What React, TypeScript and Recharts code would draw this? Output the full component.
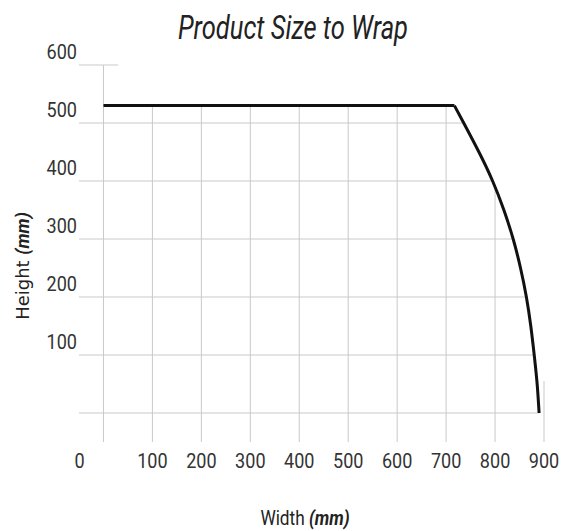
import { LineChart, Line, XAxis, YAxis, ReferenceLine } from 'recharts';

// axis ticks (mm)
const widthTicks = [0, 100, 200, 300, 400, 500, 600, 700, 800, 900];
const heightTicks = [0, 100, 200, 300, 400, 500, 600];

// wrapping envelope: flat top, then curved side (listed bottom -> top)
const flatWidth = [0, 717];
const flatHeight = [530, 530];
const curveWidth = [890, 886, 880, 873, 864, 852, 837, 818, 795, 767, 736, 717];
const curveHeight = [0, 50, 100, 150, 200, 250, 300, 350, 400, 450, 500, 530];

const flatData = flatWidth.map((w, i) => ({ w, h: flatHeight[i] }));
const curveData = curveWidth.map((w, i) => ({ w, h: curveHeight[i] }));

const GRID = '#c9c9c9';
const FONT = 'Roboto, sans-serif';
const X_MIN = -50;
const Y_MIN = -50;
const TOP_STUB = 30; // width where the 600 line stops
const RIGHT_STUB = 55; // height where the 900 line stops

// width of the envelope at a given height
function widthAt(h: number) {
  for (let i = 0; i < curveHeight.length - 1; i++) {
    const h0 = curveHeight[i];
    const h1 = curveHeight[i + 1];
    if (h >= h0 && h <= h1) {
      const t = (h - h0) / (h1 - h0);
      return curveWidth[i] + t * (curveWidth[i + 1] - curveWidth[i]);
    }
  }
  return TOP_STUB;
}

// height of the envelope at a given width
function heightAt(w: number) {
  if (w === 0) return 600;
  if (w <= flatWidth[1]) return flatHeight[1];
  for (let i = 0; i < curveWidth.length - 1; i++) {
    const w0 = curveWidth[i];
    const w1 = curveWidth[i + 1];
    if (w <= w0 && w >= w1) {
      const t = (w0 - w) / (w0 - w1);
      return curveHeight[i] + t * (curveHeight[i + 1] - curveHeight[i]);
    }
  }
  return RIGHT_STUB;
}

const XTick = (props: any) => {
  const { x, y, payload } = props;
  const shift = payload.value === 0 ? -24 : 0;
  return (
    <text
      transform={`translate(${x + shift},${y + 19.5}) scale(0.86,1)`}
      textAnchor="middle"
      dominantBaseline="central"
      fontFamily={FONT}
      fontSize={21}
      fill="#333"
    >
      {payload.value}
    </text>
  );
};

const YTick = (props: any) => {
  const { x, y, payload } = props;
  if (payload.value === 0) return null;
  return (
    <text
      transform={`translate(${x - 2},${y - 13}) scale(0.86,1)`}
      textAnchor="end"
      dominantBaseline="central"
      fontFamily={FONT}
      fontSize={21}
      fill="#333"
    >
      {payload.value}
    </text>
  );
};

export default function App() {
  return (
    <div style={{ position: 'absolute', left: 0, top: 0, width: 569, height: 531, background: '#fff' }}>
      <div
        style={{
          position: 'absolute',
          left: 293,
          top: 27,
          transform: 'translate(-50%, -50%) scale(0.75, 1)',
          whiteSpace: 'nowrap',
          fontFamily: FONT,
          fontStyle: 'italic',
          fontSize: 34,
          color: '#222',
          lineHeight: '40px',
        }}
      >
        Product Size to Wrap
      </div>
      <LineChart width={569} height={531} margin={{ top: 65, right: 25, bottom: 0, left: 0 }}>
        <XAxis
          type="number"
          dataKey="w"
          domain={[X_MIN, 900]}
          ticks={widthTicks}
          allowDataOverflow
          axisLine={false}
          tickLine={false}
          tickSize={0}
          tickMargin={0}
          height={89}
          tick={<XTick />}
          interval={0}
        />
        <YAxis
          type="number"
          domain={[Y_MIN, 600]}
          ticks={heightTicks}
          allowDataOverflow
          axisLine={false}
          tickLine={false}
          tickSize={0}
          tickMargin={0}
          width={79}
          tick={<YTick />}
          interval={0}
        />
        {heightTicks.map((h) => (
          <ReferenceLine
            key={`h-${h}`}
            segment={[
              { x: X_MIN, y: h },
              { x: widthAt(h), y: h },
            ]}
            stroke={GRID}
            strokeWidth={1}
          />
        ))}
        {widthTicks.map((w) => (
          <ReferenceLine
            key={`v-${w}`}
            segment={[
              { x: w, y: Y_MIN },
              { x: w, y: heightAt(w) },
            ]}
            stroke={GRID}
            strokeWidth={1}
          />
        ))}
        <Line
          data={flatData}
          dataKey="h"
          type="linear"
          stroke="#111"
          strokeWidth={3}
          dot={false}
          isAnimationActive={false}
        />
        <Line
          data={curveData}
          dataKey="h"
          type="natural"
          stroke="#111"
          strokeWidth={3}
          dot={false}
          isAnimationActive={false}
        />
      </LineChart>
      <div
        style={{
          position: 'absolute',
          left: 22,
          top: 266,
          transform: 'translate(-50%, -50%) rotate(-90deg)',
          whiteSpace: 'nowrap',
          fontFamily: '"DejaVu Sans", sans-serif',
          fontSize: 18,
          color: '#222',
        }}
      >
        Height <span style={{ fontFamily: FONT, fontWeight: 'bold', fontStyle: 'italic' }}>(mm)</span>
      </div>
      <div
        style={{
          position: 'absolute',
          left: 305,
          top: 518,
          transform: 'translate(-50%, -50%) scale(0.82, 1)',
          whiteSpace: 'nowrap',
          fontFamily: FONT,
          fontSize: 21,
          color: '#222',
        }}
      >
        Width <span style={{ fontWeight: 'bold', fontStyle: 'italic' }}>(mm)</span>
      </div>
    </div>
  );
}
